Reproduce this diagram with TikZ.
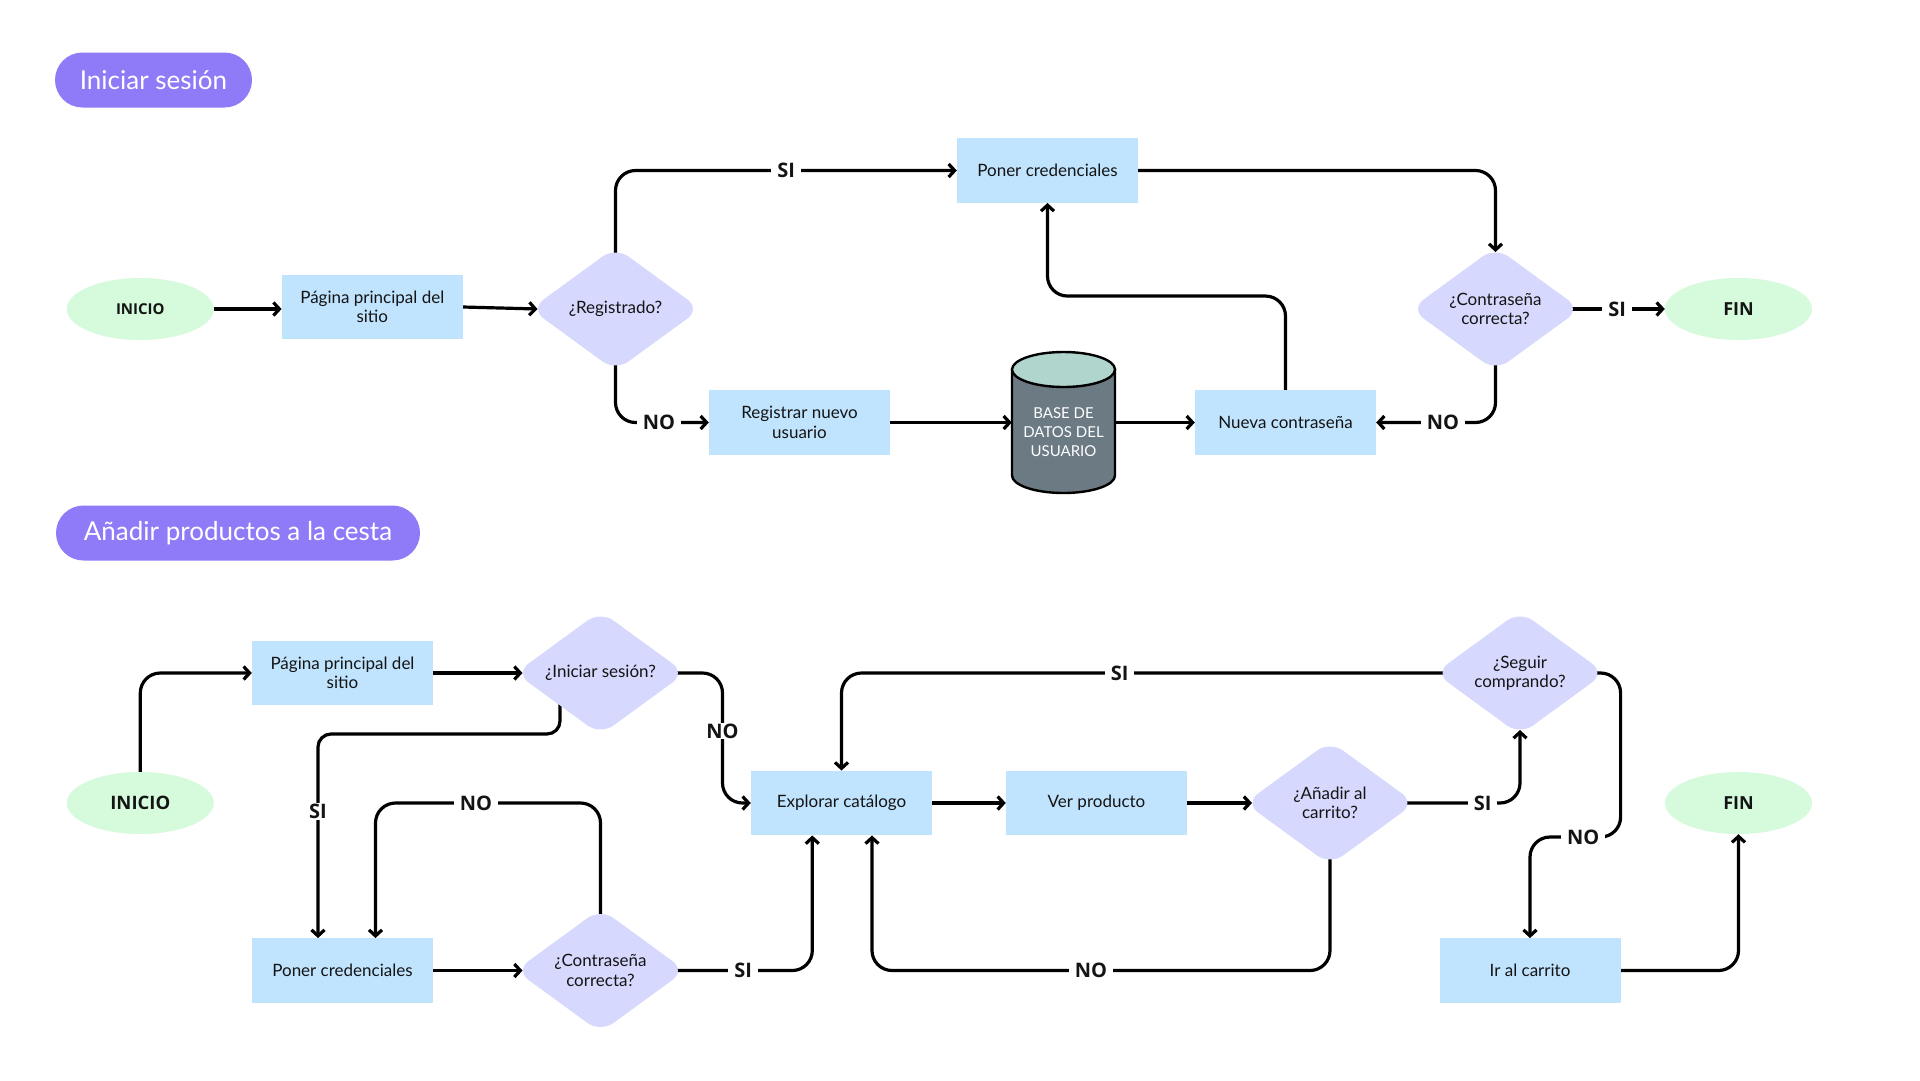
\documentclass[tikz,border=0pt]{standalone}
\usepackage{fontspec}
\setmainfont{Lato}
\newfontfamily\osans{Open Sans}
\usetikzlibrary{shapes.geometric,arrows.meta,calc}
\pgfdeclarelayer{background}
\pgfsetlayers{background,main}
\definecolor{pill}{RGB}{143,122,248}
\definecolor{boxblue}{RGB}{192,228,254}
\definecolor{lav}{RGB}{214,216,253}
\definecolor{mint}{RGB}{213,250,220}
\definecolor{slate}{RGB}{107,122,131}
\definecolor{dbtop}{RGB}{175,213,204}
\definecolor{ink}{RGB}{20,20,20}
\begin{document}
\begin{tikzpicture}[x=1pt,y=-1pt,
  box/.style={rectangle, fill=boxblue, minimum width=181pt, minimum height=64.5pt, inner sep=0pt, align=center, text=ink, font=\fontsize{17}{19.5}\selectfont},
  dia/.style={diamond, fill=lav, rounded corners=16pt, minimum width=170pt, minimum height=124pt, inner sep=0pt, shape aspect=1.37, align=center, text=ink, font=\fontsize{17}{19.5}\selectfont},
  term/.style={ellipse, fill=mint, minimum width=147pt, minimum height=62pt, inner sep=0pt, text=ink},
  pillbox/.style={rectangle, rounded corners=27.5pt, fill=pill, minimum height=55pt, inner sep=0pt, text=white, font=\fontsize{26}{30}\selectfont},
  conn/.style={line width=3.2pt, draw=black, rounded corners=20pt},
  arr/.style={conn, -{Straight Barb[length=6pt,width=13pt]}},
  lbl/.style={fill=white, inner xsep=6pt, inner ysep=1pt, text=ink, font=\osans\bfseries\fontsize{20}{22}\selectfont, rounded corners=0pt},
]
\begin{pgfonlayer}{background}
\fill[white] (0,0) rectangle (1920,1080);
\end{pgfonlayer}
\useasboundingbox (0,0) rectangle (1920,1080);

% ---------- headers ----------
\node[pillbox, minimum width=197pt] (h1) at (153.5,80) {Iniciar sesión};
\node[pillbox, minimum width=364pt] (h2) at (238,533) {Añadir productos a la cesta};

% ---------- top flow ----------
\node[term, font=\osans\bfseries\fontsize{15}{18}\selectfont] (inicio1) at (140.3,309) {INICIO};
\node[box] (pag1) at (372.3,307) {Página principal del\\sitio};
\node[dia] (reg) at (615.5,309) {¿Registrado?};
\node[box] (pon1) at (1047.5,170.5) {Poner credenciales};
\node[box] (regnu) at (799.5,422.5) {Registrar nuevo\\usuario};
\node[rectangle, minimum width=103pt, minimum height=141pt, inner sep=0pt] (db) at (1063.5,422.5) {};
\filldraw[fill=slate, line width=2.4pt] ($(db.center)+(-51.5,-53)$) -- ($(db.center)+(-51.5,53)$)
  arc[start angle=180, end angle=360, x radius=51.5pt, y radius=17.5pt] -- ($(db.center)+(51.5,-53)$) -- cycle;
\filldraw[fill=dbtop, line width=2.4pt] ($(db.center)+(0,-53)$) ellipse[x radius=51.5pt, y radius=17.5pt];
\node[align=center, text=white, font=\fontsize{15}{19}\selectfont] (dbt) at ($(db.center)+(0,9.5)$) {BASE DE\\DATOS DEL\\USUARIO};
\node[box] (nueva) at (1285.5,422.5) {Nueva contraseña};
\node[dia] (con1) at (1495.5,309) {¿Contraseña\\correcta?};
\node[term, font=\osans\bfseries\fontsize{18}{20}\selectfont] (fin1) at (1738.5,309) {FIN};

\begin{pgfonlayer}{background}
\draw[arr] (inicio1.east) -- (inicio1.east -| pag1.west);
\draw[arr] (pag1.east) -- ($(reg.center)+(-78,0)$);
\draw[arr] ($(reg.center)+(0,-53)$) |- (pon1.west) node[lbl, pos=0.75] {SI};
\draw[arr] ($(reg.center)+(0,53)$) |- (regnu.west) node[lbl, pos=0.733] {NO};
\draw[arr] (regnu.east) -- (db.west);
\draw[arr] (db.east) -- (nueva.west);
\draw[arr] (nueva.north) -- ++(0,-94) -| (pon1.south);
\draw[arr] (pon1.east) -| ($(con1.center)+(0,-57)$);
\draw[arr] ($(con1.center)+(74,0)$) -- (fin1.west) node[lbl, pos=0.5] {SI};
\draw[arr] ($(con1.center)+(0,53)$) |- (nueva.east) node[lbl, pos=0.72] {NO};
\end{pgfonlayer}

% ---------- bottom flow ----------
\node[term, font=\osans\bfseries\fontsize{18.5}{20}\selectfont] (inicio2) at (140.3,803) {INICIO};
\node[box] (pag2) at (342.5,673) {Página principal del\\sitio};
\node[dia] (ini2) at (600.5,673) {¿Iniciar sesión?};
\node[box] (pon2) at (342.5,970.5) {Poner credenciales};
\node[dia] (con2) at (600.5,970.5) {¿Contraseña\\correcta?};
\node[box] (expl) at (841.5,803) {Explorar catálogo};
\node[box] (ver) at (1096.5,803) {Ver producto};
\node[dia] (ana) at (1330,803) {¿Añadir al\\carrito?};
\node[dia] (seg) at (1520,673) {¿Seguir\\comprando?};
\node[box] (ir) at (1530,970.5) {Ir al carrito};
\node[term, font=\osans\bfseries\fontsize{18}{20}\selectfont] (fin2) at (1738.5,803) {FIN};

\begin{pgfonlayer}{background}
\draw[arr] (inicio2.north) |- (pag2.west);
\draw[arr] (pag2.east) -- ($(ini2.center)+(-78,0)$);
\draw[arr, rounded corners=13pt] ($(ini2.center)+(-40.5,30)$) -- ++(0,31) -| ($(pon2.north)+(-24.5,0)$) node[lbl, pos=0.69] {SI};
\draw[arr] ($(ini2.center)+(74,0)$) -- ++(48,0) |- (expl.west) node[lbl, pos=0.223] {NO};
\draw[arr] (pon2.east) -- ($(con2.center)+(-78,0)$);
\draw[arr] ($(con2.center)+(0,-53)$) -- ++(0,-114.5) -| ($(pon2.north)+(33,0)$) node[lbl, pos=0.277] {NO};
\draw[arr] ($(con2.center)+(74,0)$) -| ($(expl.south)+(-29.2,0)$) node[lbl, pos=0.249] {SI};
\draw[arr] (expl.east) -- (ver.west);
\draw[arr] (ver.east) -- ($(ana.center)+(-78,0)$);
\draw[arr] ($(ana.center)+(74,0)$) -| ($(seg.center)+(0,57)$) node[lbl, pos=0.339] {SI};
\draw[arr] ($(ana.center)+(0,53)$) -- ++(0,114.5) -| ($(expl.south)+(30.5,0)$) node[lbl, pos=0.261] {NO};
\draw[arr] ($(seg.center)+(-74,0)$) -| (expl.north) node[lbl, pos=0.27] {SI};
\draw[arr] ($(seg.center)+(74,0)$) -- ++(26.6,0) -- ++(0,164) -| (ir.north) node[lbl, pos=0.207] {NO};
\draw[arr] (ir.east) -| (fin2.south);
\end{pgfonlayer}
\end{tikzpicture}
\end{document}
